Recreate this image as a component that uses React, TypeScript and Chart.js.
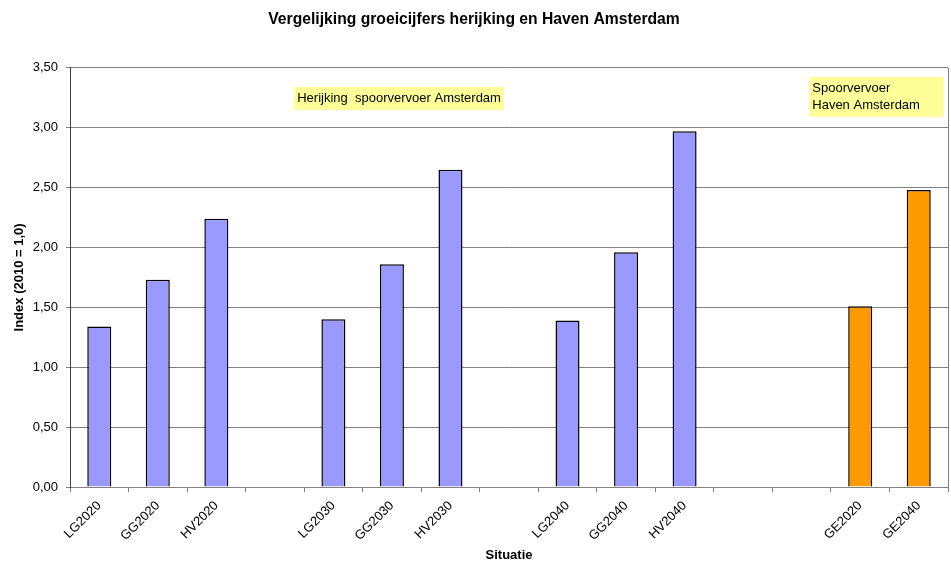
import React, { useEffect, useRef } from "react";
import { Chart, registerables } from "chart.js";

Chart.register(...registerables);

const categories = [
  "LG2020", "GG2020", "HV2020", "",
  "LG2030", "GG2030", "HV2030", "",
  "LG2040", "GG2040", "HV2040", "", "",
  "GE2020", "GE2040",
];
const herijking = [1.34, 1.73, 2.24, null, 1.40, 1.86, 2.65, null, 1.39, 1.96, 2.97, null, null, null, null];
const haven = [null, null, null, null, null, null, null, null, null, null, null, null, null, 1.51, 2.48];
const yTicks = [0, 0.5, 1, 1.5, 2, 2.5, 3, 3.5];

const FONT = "'Liberation Sans', Arial, sans-serif";

// Yellow note boxes placed in data space (x = category index, y = value)
const notes = [
  { x: 3.33, y: 3.341, lines: ["Herijking  spoorvervoer Amsterdam"], minWidth: 199 },
  { x: 12.13, y: 3.425, lines: ["Spoorvervoer", "Haven Amsterdam"], minWidth: 128 },
];

const frame = {
  id: "frame",
  afterDraw(chart: any) {
    const { ctx, chartArea, scales } = chart;
    ctx.save();
    // right border of plot area
    ctx.strokeStyle = "#808080";
    ctx.lineWidth = 1;
    ctx.beginPath();
    ctx.moveTo(Math.round(chartArea.right) + 0.5, chartArea.top);
    ctx.lineTo(Math.round(chartArea.right) + 0.5, chartArea.bottom);
    ctx.stroke();

    ctx.font = `13px ${FONT}`;
    ctx.textBaseline = "middle";
    for (const n of notes) {
      const x = scales.x.getPixelForValue(n.x);
      const y = scales.y.getPixelForValue(n.y);
      const w = Math.max(n.minWidth || 0, ...n.lines.map((l) => ctx.measureText(l).width)) + 6;
      const lh = 17;
      const h = n.lines.length * lh + 6;
      ctx.fillStyle = "#FFFF99";
      ctx.fillRect(x, y, w, h);
      ctx.fillStyle = "#000";
      n.lines.forEach((l, i) => ctx.fillText(l, x + 3, y + 3 + lh / 2 + i * lh));
    }
    ctx.restore();
  },
};

export default function App() {
  const ref = useRef<HTMLCanvasElement>(null);
  useEffect(() => {
    const barStyle = {
      borderColor: "#000",
      borderWidth: 1.5,
      barPercentage: 0.41,
      categoryPercentage: 1,
      skipNull: true,
    };
    const chart = new Chart(ref.current!, {
      type: "bar",
      data: {
        labels: categories,
        datasets: [
          { data: herijking as any, backgroundColor: "#9999FF", ...barStyle } as any,
          { data: haven as any, backgroundColor: "#FF9900", ...barStyle } as any,
        ],
      },
      options: {
        animation: false,
        responsive: true,
        maintainAspectRatio: false,
        layout: { padding: { left: 0, right: 3, top: 0, bottom: 0 } },
        plugins: {
          legend: { display: false },
          tooltip: { enabled: false },
          title: {
            display: true,
            text: "Vergelijking groeicijfers herijking en Haven Amsterdam",
            color: "#000",
            font: { family: FONT, size: 15.7, weight: "bold" },
            padding: { top: 10, bottom: 39 },
          },
        },
        scales: {
          x: {
            grid: {
              offset: true,
              drawOnChartArea: false,
              tickLength: 5,
              color: "#808080",
            },
            border: { color: "#808080" },
            ticks: {
              color: "#000",
              font: { family: FONT, size: 13 },
              maxRotation: 45,
              minRotation: 45,
              autoSkip: false,
              padding: 6,
            },
            title: {
              display: true,
              text: "Situatie",
              color: "#000",
              font: { family: FONT, size: 13, weight: "bold" },
              padding: { top: 0, bottom: 5 },
            },
            afterFit: (s: any) => {
              s.height = 81;
            },
          },
          y: {
            min: 0,
            max: 3.5,
            afterBuildTicks: (s: any) => {
              s.ticks = yTicks.map((v) => ({ value: v }));
            },
            grid: { color: "#808080", tickLength: 4 },
            border: { color: "#404040" },
            ticks: {
              color: "#000",
              font: { family: FONT, size: 13 },
              padding: 8,
              callback: (v: any) => Number(v).toFixed(2).replace(".", ","),
            },
            title: {
              display: true,
              text: "Index (2010 = 1,0)",
              color: "#000",
              font: { family: FONT, size: 13, weight: "bold" },
              padding: { top: 12, bottom: 0 },
            },
            afterFit: (s: any) => {
              s.width = 70;
            },
          },
        },
      },
      plugins: [frame],
    });
    return () => chart.destroy();
  }, []);
  return (
    <div style={{ position: "absolute", left: 0, top: 0, width: 951, height: 568, background: "#fff" }}>
      <canvas ref={ref} />
    </div>
  );
}
